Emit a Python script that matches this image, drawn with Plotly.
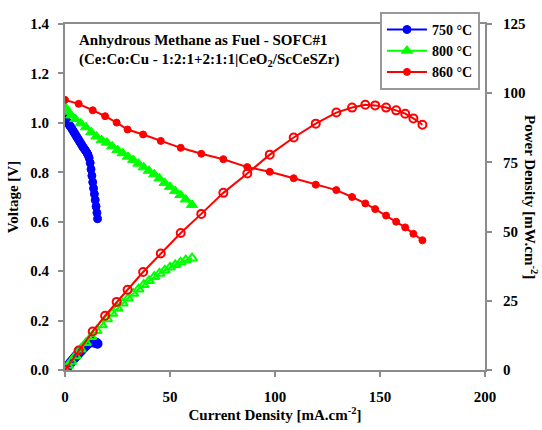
import plotly.graph_objects as go

# 750 °C
i_750 = [0, 0.5, 1, 1.5, 2, 2.5, 3, 3.5, 4, 4.5, 5, 5.5, 6, 6.5, 7, 7.5, 8, 8.5,
         9, 9.5, 10, 10.5, 11, 11.5, 12, 12.4, 12.8, 13.2, 13.6, 14.0, 14.4, 14.8,
         15.2, 15.5]
v_750 = [1.020, 1.012, 1.005, 0.998, 0.992, 0.986, 0.980, 0.973, 0.966, 0.959,
         0.952, 0.945, 0.938, 0.931, 0.924, 0.917, 0.910, 0.903, 0.897, 0.891,
         0.885, 0.878, 0.870, 0.858, 0.838, 0.812, 0.786, 0.760, 0.735, 0.712,
         0.688, 0.662, 0.636, 0.612]
p_750 = [0, 0.51, 1.0, 1.5, 1.98, 2.47, 2.94, 3.41, 3.86, 4.32, 4.76, 5.20, 5.63,
         6.05, 6.47, 6.88, 7.28, 7.68, 8.07, 8.46, 8.85, 9.22, 9.57, 9.87, 10.06,
         10.07, 10.06, 10.03, 10.0, 9.97, 9.91, 9.80, 9.67, 9.49]

# 800 °C
i_800 = [0, 1.5, 3, 5, 7.5, 10, 12.5, 15, 17.5, 20, 22.5, 25, 27.5, 30, 32.5, 35,
         37.5, 40, 42.5, 45, 47.5, 50, 52.5, 55, 57.5, 60.5]
v_800 = [1.065, 1.045, 1.030, 1.015, 0.998, 0.982, 0.962, 0.945, 0.930, 0.920,
         0.905, 0.890, 0.877, 0.863, 0.850, 0.835, 0.820, 0.806, 0.792, 0.775,
         0.757, 0.741, 0.724, 0.708, 0.690, 0.668]
p_800 = [0, 1.6, 3.1, 5.1, 7.5, 9.8, 12.0, 14.2, 16.3, 18.4, 20.4, 22.3, 24.1,
         25.9, 27.6, 29.2, 30.8, 32.2, 33.7, 34.9, 36.0, 37.1, 38.0, 38.9, 39.7,
         40.4]

# 860 °C
i_860 = [0, 6.5, 13.2, 19.1, 24.6, 29.8, 37.2, 45.6, 55.1, 64.9, 75.4, 86.8, 97.5,
         108.9, 119.4, 129.2, 136.7, 143.0, 147.7, 152.9, 157.7, 162.0, 165.9,
         170.2]
v_860 = [1.093, 1.077, 1.051, 1.027, 1.001, 0.973, 0.953, 0.927, 0.899, 0.875,
         0.853, 0.821, 0.802, 0.776, 0.750, 0.728, 0.700, 0.674, 0.651, 0.625,
         0.600, 0.577, 0.551, 0.525]
p_860 = [0, 7.0, 13.9, 19.6, 24.6, 29.0, 35.4, 42.1, 49.5, 56.4, 64.0, 71.0, 77.8,
         84.0, 89.0, 93.0, 94.8, 95.8, 95.6, 94.8, 93.8, 92.6, 90.9, 88.6]

x_ticks = [0, 50, 100, 150, 200]
v_ticks = [0.0, 0.2, 0.4, 0.6, 0.8, 1.0, 1.2, 1.4]
p_ticks = [0, 25, 50, 75, 100, 125]

FONT = "Liberation Serif"
FS = 15
AXIS_GRAY = "#8c8c8c"
BLUE, GREEN, RED = "#0000ff", "#00ff00", "#ff0000"

fig = go.Figure()

series = [
    ("750 °C", i_750, v_750, p_750, BLUE, "circle", "circle", 8, 8),
    ("800 °C", i_800, v_800, p_800, GREEN, "triangle-up", "triangle-up-open", 10, 9),
    ("860 °C", i_860, v_860, p_860, RED, "circle", "circle-open", 7, 8),
]

for name, cur, volt, power, col, sym_v, sym_p, size_v, size_p in series:
    fig.add_trace(go.Scatter(
        x=cur, y=volt, name=name, mode="lines+markers",
        line=dict(color=col, width=2),
        marker=dict(symbol=sym_v, size=size_v, color=col,
                    line=dict(color=col, width=1)),
        yaxis="y", legendgroup=name,
    ))
    fig.add_trace(go.Scatter(
        x=cur, y=power, name=name, mode="lines+markers",
        line=dict(color=col, width=2),
        marker=dict(symbol=sym_p, size=size_p, color=col,
                    line=dict(color=col, width=2)),
        yaxis="y2", legendgroup=name, showlegend=False,
    ))

bold = dict(family=FONT, size=FS, color="black", weight="bold")

fig.update_layout(
    width=542, height=430,
    margin=dict(l=64, r=57, t=15, b=55),
    paper_bgcolor="white", plot_bgcolor="white",
    font=bold,
    showlegend=True,
    legend=dict(
        x=0.988, y=1.035, xanchor="right", yanchor="top",
        bgcolor="white", bordercolor="#999999", borderwidth=2,
        font=dict(family=FONT, size=14, color="black", weight="bold"),
        itemwidth=40, tracegroupgap=0,
    ),
    xaxis=dict(
        range=[0, 200], tickvals=x_ticks, showgrid=False, zeroline=False,
        showline=True, linecolor=AXIS_GRAY, linewidth=2, mirror=True,
        ticks="outside", ticklen=5, tickwidth=2, tickcolor=AXIS_GRAY,
        tickfont=bold, ticklabelstandoff=7,
        title=dict(text="Current Density [mA.cm<sup>-2</sup>]",
                   font=bold, standoff=2),
    ),
    yaxis=dict(
        range=[0, 1.4], tickvals=v_ticks, tickformat=".1f",
        showgrid=False, zeroline=False,
        showline=True, linecolor=AXIS_GRAY, linewidth=2,
        ticks="outside", ticklen=5, tickwidth=2, tickcolor=AXIS_GRAY,
        tickfont=bold, ticklabelstandoff=6,
        title=dict(text="Voltage [V]", font=bold, standoff=8),
    ),
    yaxis2=dict(
        range=[0, 125], tickvals=p_ticks, overlaying="y", side="right",
        showgrid=False, zeroline=False,
        showline=True, linecolor=AXIS_GRAY, linewidth=2,
        ticks="outside", ticklen=5, tickwidth=2, tickcolor=AXIS_GRAY,
        tickfont=bold, ticklabelstandoff=8,
    ),
    annotations=[
        dict(text="Anhydrous Methane as Fuel - SOFC#1",
             xref="paper", yref="paper", x=0.028, y=0.955,
             xanchor="left", yanchor="middle", showarrow=False, font=bold),
        dict(text="(Ce:Co:Cu - 1:2:1+2:1:1|CeO<sub>2</sub>/ScCeSZr)",
             xref="paper", yref="paper", x=0.028, y=0.895,
             xanchor="left", yanchor="middle", showarrow=False, font=bold),
        dict(text="Power Density [mW.cm<sup>-2</sup>]",
             xref="paper", yref="paper", x=1.0, xshift=46, y=0.5,
             xanchor="center", yanchor="middle", textangle=90, showarrow=False,
             font=bold),
    ],
)

fig.write_html("out.html")
